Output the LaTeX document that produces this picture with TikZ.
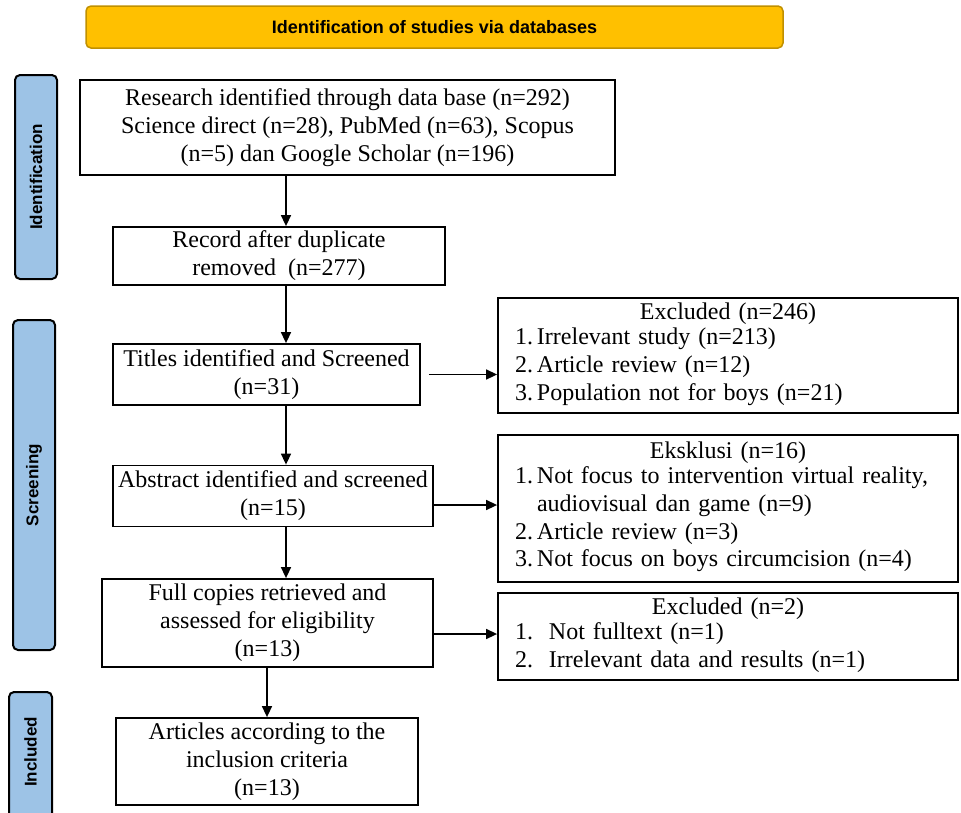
\documentclass[tikz,border=0pt]{standalone}
\usepackage{fontspec}
\setmainfont{Liberation Serif}
\newfontfamily\arialfont{Liberation Sans}
\usetikzlibrary{arrows.meta,calc}
\definecolor{bannerfill}{HTML}{FFC000}
\definecolor{bannerdraw}{HTML}{C09000}
\definecolor{sidefill}{HTML}{9DC3E6}
\tikzset{
  box/.style={draw=black, line width=1.8pt, fill=white, align=center, inner sep=1pt,
    font=\fontsize{24}{28}\selectfont},
  exbox/.style={draw=black, line width=1.8pt, fill=white, inner xsep=17pt, inner ysep=1pt,
    font=\fontsize{24}{27.7}\selectfont},
  banner/.style={draw=bannerdraw, line width=1.5pt, fill=bannerfill, rounded corners=5pt,
    font=\arialfont\bfseries\fontsize{18}{21}\selectfont},
  side/.style={draw=black, line width=2pt, fill=sidefill, rounded corners=5pt},
  sidelabel/.style={rotate=90, font=\arialfont\bfseries\fontsize{17}{20}\selectfont},
  arr/.style={draw=black, line width=1.5pt, -{Triangle[length=11pt,width=10pt]}}
}
\begin{document}
\begin{tikzpicture}[x=1pt,y=-1pt]
\useasboundingbox (0,0) rectangle (961,812);

% banner
\node[banner, minimum width=697pt, minimum height=42pt] (hdr) at (434.5,27) {Identification of studies via databases};

% side bars
\draw[side] (15,75) rectangle (57,279);
\node[sidelabel] (sid) at (36,177) {Identification};
\draw[side] (13,320) rectangle (55,650);
\node[sidelabel] (sscr) at (34,485) {Screening};
\draw[side] (9,692) rectangle (52,830);
\node[sidelabel] (sinc) at (30.5,752) {Included};

% main boxes
\node[box, minimum width=535pt, minimum height=95pt] (b1) at (347.5,127.5)
  {Research identified through data base (n=292)\\Science direct (n=28), PubMed (n=63), Scopus\\(n=5) dan Google Scholar (n=196)};
\node[box, minimum width=332pt, minimum height=58pt] (b2) at (279,256)
  {Record after duplicate\\removed\ \ (n=277)};
\node[box, minimum width=307pt, minimum height=61pt] (b3) at (266.5,374.5)
  {Titles identified and Screened\\(n=31)};
\node[box, minimum width=320pt, minimum height=61pt] (b4) at (273,496)
  {Abstract identified and screened\\(n=15)};
\node[box, minimum width=331pt, minimum height=88pt] (b5) at (267.5,623)
  {Full copies retrieved and\\assessed for eligibility\\(n=13)};
\node[box, minimum width=302pt, minimum height=87pt] (b6) at (267,761.5)
  {Articles according to the\\inclusion criteria\\(n=13)};

% exclusion boxes
\node[exbox, text width=426pt, minimum height=115pt] (e1) at (728,355.5)
  {\centering Excluded (n=246)\par\raggedright
   \begin{tabular}{@{}r@{\,}l@{}}1. & Irrelevant study (n=213)\\2. & Article review (n=12)\\3. & Population not for boys (n=21)\end{tabular}};
\node[exbox, text width=426pt, minimum height=147pt] (e2) at (728,508.5)
  {\centering Eksklusi (n=16)\par\raggedright
   \begin{tabular}{@{}r@{\,}l@{}}1. & Not focus to intervention virtual reality,\\ & audiovisual dan game (n=9)\\2. & Article review (n=3)\\3. & Not focus on boys circumcision (n=4)\end{tabular}};
\node[exbox, text width=426pt, minimum height=87pt] (e3) at (728,636.5)
  {\centering Excluded (n=2)\par\raggedright
   \begin{tabular}{@{}r@{\ \ }l@{}}1. & Not fulltext (n=1)\\2. & Irrelevant data and results (n=1)\end{tabular}};

% connectors
\coordinate (ax) at (286,0);
\coordinate (bx) at (267,0);
\draw[arr] (b1.south -| ax) -- (b2.north -| ax);
\draw[arr] (b2.south -| ax) -- (b3.north -| ax);
\draw[arr] (b3.south -| ax) -- (b4.north -| ax);
\draw[arr] (b4.south -| ax) -- (b5.north -| ax);
\draw[arr] (b5.south -| bx) -- (b6.north -| bx);

\draw[arr] ([xshift=8pt]b3.east) -- (b3.east -| e1.west);
\draw[arr] ([yshift=-9pt]b4.east) -- ([yshift=-9pt]b4.east -| e2.west);
\draw[arr] ([yshift=-11pt]b5.east) -- ([yshift=-11pt]b5.east -| e3.west);
\end{tikzpicture}
\end{document}
